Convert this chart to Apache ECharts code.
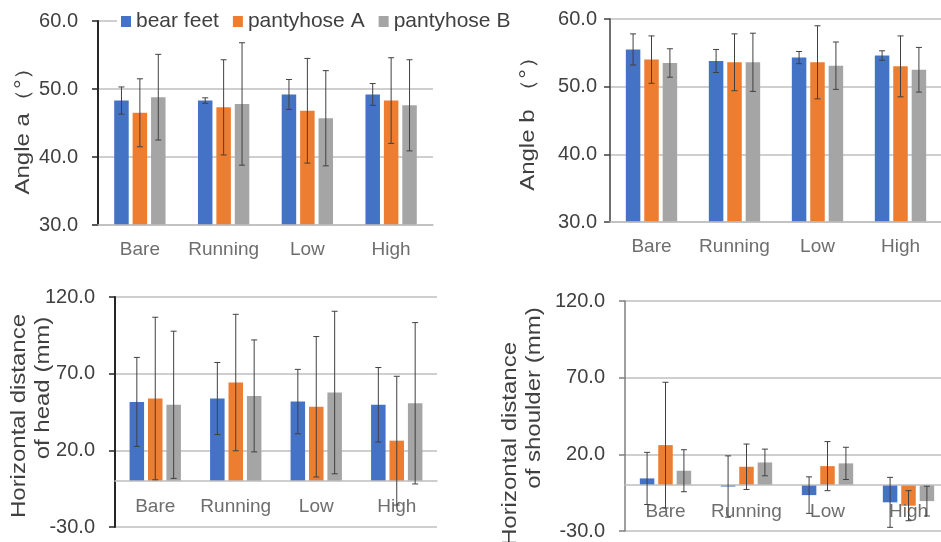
<!DOCTYPE html>
<html><head><meta charset="utf-8">
<script src="https://cdn.jsdelivr.net/npm/echarts@6/dist/echarts.min.js"></script>
<style>html,body{margin:0;padding:0;background:#fff}#c{width:941px;height:542px}</style>
</head><body><div id="c"></div>
<script>
// ---- data ----
const categories = ['Bare', 'Running', 'Low', 'High'];
const seriesNames = ['bear feet', 'pantyhose A', 'pantyhose B'];

const angleA_bear = [48.3, 48.3, 49.2, 49.2];
const angleA_bear_sd = [2.0, 0.4, 2.2, 1.6];
const angleA_pA = [46.5, 47.3, 46.8, 48.3];
const angleA_pA_sd = [5.0, 7.0, 7.7, 6.3];
const angleA_pB = [48.8, 47.8, 45.7, 47.6];
const angleA_pB_sd = [6.3, 9.0, 7.0, 6.7];

const angleB_bear = [55.5, 53.8, 54.3, 54.6];
const angleB_bear_sd = [2.3, 1.7, 0.9, 0.7];
const angleB_pA = [54.0, 53.6, 53.6, 53.0];
const angleB_pA_sd = [3.5, 4.2, 5.4, 4.5];
const angleB_pB = [53.5, 53.6, 53.1, 52.5];
const angleB_pB_sd = [2.1, 4.3, 3.5, 3.3];

const head_bear = [51.6, 53.8, 51.8, 49.7];
const head_bear_sd = [29.0, 23.5, 21.0, 24.3];
const head_pA = [53.8, 64.2, 48.4, 26.3];
const head_pA_sd = [53.0, 44.5, 45.8, 42.0];
const head_pB = [49.7, 55.5, 57.7, 50.7];
const head_pB_sd = [48.0, 36.5, 53.0, 52.6];

const shoulder_bear = [4.3, -1.0, -6.6, -11.3];
const shoulder_bear_sd = [17.0, 20.0, 11.9, 16.3];
const shoulder_pA = [26.0, 11.9, 12.3, -13.5];
const shoulder_pA_sd = [41.0, 14.8, 16.0, 9.8];
const shoulder_pB = [9.3, 14.7, 14.1, -10.5];
const shoulder_pB_sd = [13.7, 8.7, 10.5, 9.7];

const angleTicks = [30, 40, 50, 60];
const distTicks = [-30, 20, 70, 120];

// ---- styling ----
const COLORS = ['#4472C4', '#ED7D31', '#A5A5A5'];
const FONT = "'Liberation Sans', Arial, sans-serif";
const BW = 14.5, GAP_RATIO = 0.27;

const panels = [
  { means: [angleA_bear, angleA_pA, angleA_pB], sds: [angleA_bear_sd, angleA_pA_sd, angleA_pB_sd], ticks: angleTicks,
    grid: { left: 98, top: 21, width: 335, height: 204 }, axisColor: '#262626', axisWidth: 2, labelMargin: 20, xMargin: 15 },
  { means: [angleB_bear, angleB_pA, angleB_pB], sds: [angleB_bear_sd, angleB_pA_sd, angleB_pB_sd], ticks: angleTicks,
    grid: { left: 610, top: 19, width: 332, height: 203 }, axisColor: '#404040', axisWidth: 1.5, labelMargin: 13, xMargin: 15 },
  { means: [head_bear, head_pA, head_pB], sds: [head_bear_sd, head_pA_sd, head_pB_sd], ticks: distTicks,
    grid: { left: 115, top: 297, width: 322, height: 230 }, axisColor: '#262626', axisWidth: 2, labelMargin: 20, xMargin: 16 },
  { means: [shoulder_bear, shoulder_pA, shoulder_pB], sds: [shoulder_bear_sd, shoulder_pA_sd, shoulder_pB_sd], ticks: distTicks,
    grid: { left: 625, top: 301, width: 324, height: 230 }, axisColor: '#7f7f7f', axisWidth: 1.5, labelMargin: 20, xMargin: 17 }
];

function makeErr(i) {
  return function (params, api) {
    const k = api.value(0);
    const off = (i - 1) * BW * (1 + GAP_RATIO);
    const lo = api.coord([k, api.value(1)]);
    const hi = api.coord([k, api.value(2)]);
    const x = lo[0] + off;
    const st = { stroke: '#404040', lineWidth: 1 };
    return { type: 'group', children: [
      { type: 'line', shape: { x1: x, y1: lo[1], x2: x, y2: hi[1] }, style: st },
      { type: 'line', shape: { x1: x - 3, y1: hi[1], x2: x + 3, y2: hi[1] }, style: st },
      { type: 'line', shape: { x1: x - 3, y1: lo[1], x2: x + 3, y2: lo[1] }, style: st }
    ]};
  };
}

const grids = [], xAxes = [], yAxes = [], series = [];
panels.forEach((p, pi) => {
  grids.push(Object.assign({ containLabel: false, outerBoundsMode: 'none' }, p.grid));
  const ymin = p.ticks[0], ymax = p.ticks[p.ticks.length - 1];
  // labels sit just below the zero line when zero is inside the value range
  const zeroShift = (ymin < 0) ? (0 - ymin) / (ymax - ymin) * p.grid.height : 0;
  xAxes.push({
    type: 'category', gridIndex: pi, data: categories, z: 5,
    axisLine: { onZero: true, lineStyle: { color: '#bfbfbf', width: 1.5 } },
    axisTick: { show: false },
    axisLabel: { interval: 0, color: '#6e6e6e', fontSize: 19, fontFamily: FONT, margin: p.xMargin - zeroShift }
  });
  const yAx = {
    type: 'value', gridIndex: pi, min: ymin, max: ymax,
    axisLine: { show: true, lineStyle: { color: p.axisColor, width: p.axisWidth } },
    axisTick: { show: true, length: 6, lineStyle: { color: p.axisColor, width: 1.5 }, customValues: p.ticks },
    axisLabel: { customValues: p.ticks, formatter: v => v.toFixed(1), color: '#404040', fontSize: 20, fontFamily: FONT, margin: p.labelMargin },
    splitLine: { show: true, lineStyle: { color: '#bfbfbf', width: 1.5 } }
  };
  if (p.ticks === angleTicks) yAx.interval = 10;
  yAxes.push(yAx);
  for (let i = 0; i < 3; i++) {
    series.push({
      type: 'bar', name: seriesNames[i], xAxisIndex: pi, yAxisIndex: pi,
      data: p.means[i], barWidth: BW, barGap: (GAP_RATIO * 100) + '%',
      itemStyle: { color: COLORS[i] }, clip: true, z: 2, silent: true
    });
  }
  for (let i = 0; i < 3; i++) {
    series.push({
      type: 'custom', xAxisIndex: pi, yAxisIndex: pi, z: 6, silent: true,
      renderItem: makeErr(i),
      data: categories.map((c, k) => [k, p.means[i][k] - p.sds[i][k], p.means[i][k] + p.sds[i][k]])
    });
  }
});

function vtext(x, y, text) {
  return { type: 'text', x: x, y: y, rotation: Math.PI / 2, scaleX: 1.2, z: 10,
    style: { text: text, font: '20px ' + FONT, fill: '#404040', align: 'center', verticalAlign: 'middle',
             textAlign: 'center', textVerticalAlign: 'middle' } };
}

const chart = echarts.init(document.getElementById('c'), null, { renderer: 'canvas' });
chart.setOption({
  animation: false,
  backgroundColor: '#fff',
  textStyle: { fontFamily: FONT },
  grid: grids, xAxis: xAxes, yAxis: yAxes, series: series,
  legend: {
    data: seriesNames, left: 117, top: 9, itemWidth: 10, itemHeight: 11, itemGap: 14, icon: 'rect',
    padding: [2, 4], backgroundColor: '#fff', selectedMode: false,
    textStyle: { fontSize: 21, color: '#404040', fontFamily: FONT }
  },
  graphic: [
    vtext(23, 125, 'Angle a（°）'),
    vtext(528, 118, 'Angle b （°）'),
    vtext(19, 416, 'Horizontal distance'),
    vtext(43, 388, 'of head (mm)'),
    vtext(510, 444, 'Horizontal distance'),
    vtext(534, 398, 'of shoulder (mm)')
  ]
});
</script></body></html>
